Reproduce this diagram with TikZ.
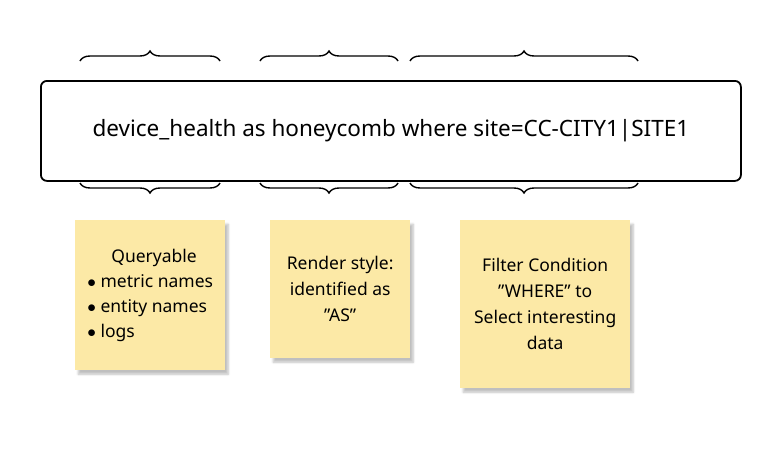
\documentclass[tikz,border=0pt]{standalone}
\usepackage{fontspec}
\setmainfont{Noto Sans}[Ligatures=ResetAll]
\usetikzlibrary{decorations.pathreplacing,shadows.blur}
\definecolor{sticky}{HTML}{FCE9A6}
\newcommand{\dq}{"}
\tikzset{
  bracestyle/.style={draw,line width=1.4pt,decorate,decoration={brace,amplitude=10pt}},
  note/.style={fill=sticky,inner sep=0pt,anchor=north west,align=center,font=\fontsize{17.5}{26}\selectfont,
    blur shadow={shadow xshift=3pt,shadow yshift=-4pt,shadow blur steps=6,shadow opacity=25}},
}
\begin{document}
\begin{tikzpicture}[x=1pt,y=-1pt]
\useasboundingbox (0,0) rectangle (780,450);
\node[draw,line width=1.8pt,rounded corners=6pt,minimum width=700pt,minimum height=100pt,anchor=north west,
  font=\fontsize{22.5}{26}\selectfont] (q) at (40,80) {device\_health as honeycomb where site=CC-CITY1|SITE1};
\coordinate (a1) at (80,61); \coordinate (a2) at (220,61);
\coordinate (b1) at (260,61); \coordinate (b2) at (398,61);
\coordinate (c1) at (410,61); \coordinate (c2) at (638,61);
\coordinate (d1) at (80,183); \coordinate (d2) at (220,183);
\coordinate (e1) at (260,183); \coordinate (e2) at (398,183);
\coordinate (f1) at (410,183); \coordinate (f2) at (638,183);
\draw[bracestyle] (a1) -- (a2);
\draw[bracestyle] (b1) -- (b2);
\draw[bracestyle] (c1) -- (c2);
\draw[bracestyle] (d2) -- (d1);
\draw[bracestyle] (e2) -- (e1);
\draw[bracestyle] (f2) -- (f1);
\node[note,minimum width=150pt,minimum height=150pt] (n1) at (75,220) {};
\node[font=\fontsize{17.5}{26}\selectfont,align=left] (t1) at (n1.center) {\hspace*{24pt}Queryable\\[-1pt] $\bullet$ metric names\\[-1pt] $\bullet$ entity names\\[-1pt] $\bullet$ logs};
\node[note,minimum width=140pt,minimum height=138pt] (n2) at (270,220) {Render style:\\ identified as\\ \dq AS\dq};
\node[note,minimum width=170pt,minimum height=168pt] (n3) at (460,220) {Filter Condition\\ \dq WHERE\dq{} to\\ Select interesting\\ data};
\end{tikzpicture}
\end{document}
